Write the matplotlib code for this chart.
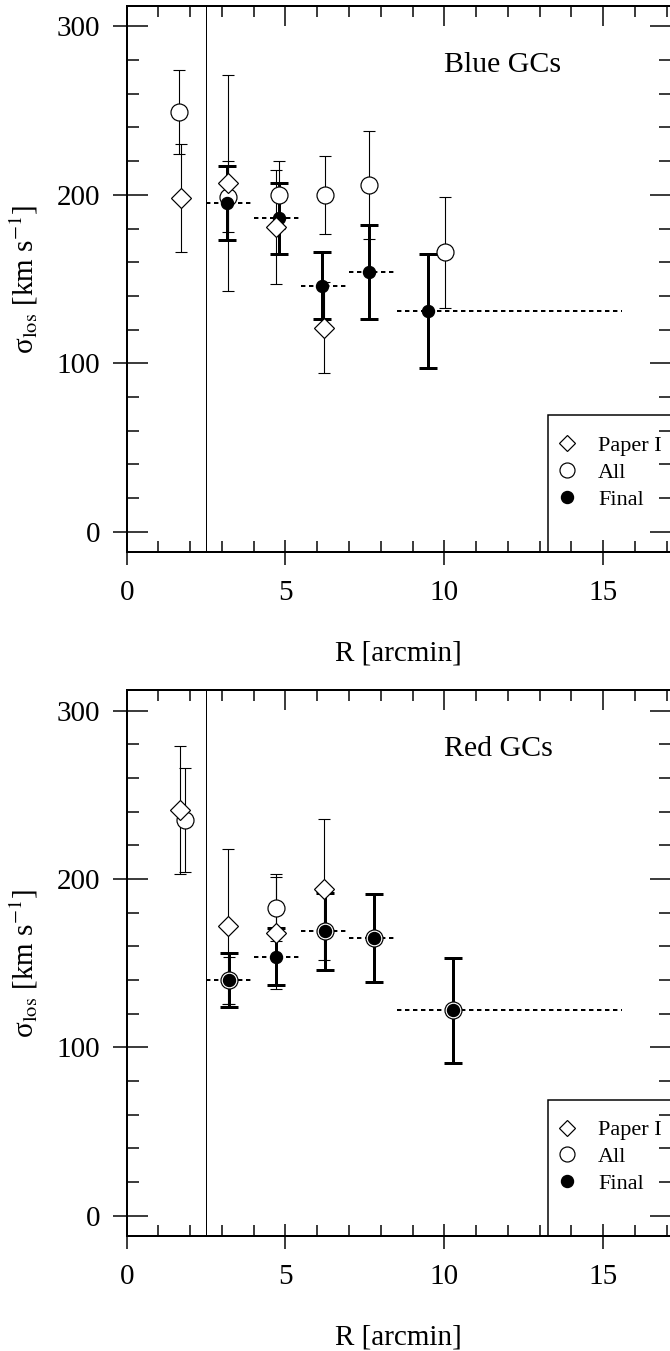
import matplotlib
matplotlib.use('Agg')
import matplotlib.pyplot as plt
from matplotlib.ticker import MultipleLocator
from matplotlib.patches import Rectangle
from matplotlib.lines import Line2D

plt.rcParams['font.family'] = ['Liberation Serif', 'DejaVu Serif']
plt.rcParams['mathtext.fontset'] = 'stix'

# radial bins of the final dispersion profile [arcmin]
bin_lo = [2.5, 4.0, 5.5, 7.0, 8.5]
bin_hi = [4.0, 5.5, 7.0, 8.5, 15.6]

# blue GCs
blue_paper_r = [1.70, 3.18, 4.71, 6.21]
blue_paper_s = [198, 207, 181, 121]
blue_paper_e = [32, 64, 34, 27]
blue_all_r = [1.65, 3.18, 4.79, 6.24, 7.64, 10.03]
blue_all_s = [249, 199, 200, 200, 206, 166]
blue_all_e = [25, 21, 20, 23, 32, 33]
blue_fin_r = [3.16, 4.80, 6.16, 7.62, 9.48]
blue_fin_s = [195, 186, 146, 154, 131]
blue_fin_e = [22, 21, 20, 28, 34]

# red GCs
red_paper_r = [1.69, 3.18, 4.71, 6.21]
red_paper_s = [241, 172, 168, 194]
red_paper_e = [38, 46, 33, 42]
red_all_r = [1.84, 3.22, 4.71, 6.23, 7.78, 10.29]
red_all_s = [235, 140, 183, 169, 165, 122]
red_all_e = [31, 14, 20, 23, 26, 31]
red_fin_r = [3.22, 4.71, 6.23, 7.78, 10.29]
red_fin_s = [140, 154, 169, 165, 122]
red_fin_e = [16, 17, 23, 26, 31]

r_core = 2.5
PX = 0.72  # points per pixel at dpi=100


def style_axes(ax):
    ax.set_xlim(0, 17.14)
    ax.set_ylim(-12, 312.2)
    for sp in ax.spines.values():
        sp.set_linewidth(2 * PX)
    ax.xaxis.set_major_locator(MultipleLocator(5))
    ax.xaxis.set_minor_locator(MultipleLocator(1))
    ax.yaxis.set_major_locator(MultipleLocator(100))
    ax.yaxis.set_minor_locator(MultipleLocator(20))
    ax.tick_params(axis='x', which='major', direction='inout', length=25 * PX,
                   width=1.5 * PX, labelsize=21, pad=11, top=False)
    ax.tick_params(axis='x', which='minor', direction='in', length=11 * PX,
                   width=1.5 * PX, top=False)
    ax.tick_params(axis='y', which='major', direction='out', length=14 * PX,
                   width=1.5 * PX, labelsize=21, pad=9, right=False)
    ax.tick_params(axis='y', which='minor', left=False, right=False)

    # inward ticks on the left, top and right
    left = ax.secondary_yaxis('left')
    right = ax.secondary_yaxis('right')
    top = ax.secondary_xaxis('top')
    for sec in (left, right):
        sec.yaxis.set_major_locator(MultipleLocator(100))
        sec.yaxis.set_minor_locator(MultipleLocator(20))
        sec.tick_params(which='major', direction='in', length=21 * PX, width=1.5 * PX,
                        labelleft=False, labelright=False)
        sec.tick_params(which='minor', direction='in', length=12 * PX, width=1.5 * PX)
    top.xaxis.set_major_locator(MultipleLocator(5))
    top.xaxis.set_minor_locator(MultipleLocator(1))
    top.tick_params(which='major', direction='in', length=20 * PX, width=1.5 * PX,
                    labeltop=False)
    top.tick_params(which='minor', direction='in', length=11 * PX, width=1.5 * PX)
    for sec in (left, right, top):
        for sp in sec.spines.values():
            sp.set_linewidth(2 * PX)

    ax.set_xlabel('R [arcmin]', fontsize=21)
    ax.set_ylabel('σ$_{\\rm los}$ [km s$^{-1}$]', fontsize=21)
    ax.xaxis.set_label_coords(0.5, -0.163)
    ax.yaxis.set_label_coords(-0.160, 0.5)


def draw_panel(ax, title, paper, allgc, final):
    ax.axvline(r_core, color='k', lw=1 * PX, zorder=1)

    thin = dict(fmt='none', ecolor='k', elinewidth=1.1 * PX, capsize=5.8 * PX,
                capthick=1.1 * PX, zorder=2)
    ax.errorbar(paper[0], paper[1], yerr=paper[2], **thin)
    ax.errorbar(allgc[0], allgc[1], yerr=allgc[2], **thin)
    ax.errorbar(final[0], final[1], yerr=final[2], fmt='none', ecolor='k',
                elinewidth=3 * PX, capsize=9 * PX, capthick=3 * PX, zorder=2.2)

    # bin extent of the final dispersions
    ax.hlines(final[1], bin_lo, bin_hi, colors='k', linestyles=(0, (2.2, 1.8)),
              lw=2 * PX, zorder=2.1)

    ax.plot(allgc[0], allgc[1], 'o', ms=17 * PX, mfc='white', mec='k',
            mew=1.2 * PX, ls='none', zorder=3)
    ax.plot(final[0], final[1], 'o', ms=12 * PX, mfc='k', mec='k',
            ls='none', zorder=4)
    ax.plot(paper[0], paper[1], 'D', ms=14 * PX, mfc='white', mec='k',
            mew=1.2 * PX, ls='none', zorder=5)

    ax.text(10.0, 273, title, fontsize=21.5, ha='left', va='baseline')

    handles = [
        Line2D([], [], marker='D', ms=12 * PX, mfc='white', mec='k', mew=1.2 * PX, ls='none'),
        Line2D([], [], marker='o', ms=15 * PX, mfc='white', mec='k', mew=1.2 * PX, ls='none'),
        Line2D([], [], marker='o', ms=12 * PX, mfc='k', mec='k', ls='none'),
    ]
    ax.legend(handles, ['Paper I', 'All', 'Final'], loc='upper left',
              bbox_to_anchor=(0.7915, 0.213), frameon=False, fontsize=16,
              borderpad=0, borderaxespad=0, handlelength=0.87, handletextpad=0.96,
              labelspacing=0.28)
    ax.add_patch(Rectangle((0.774, 0), 0.4, 0.2498, transform=ax.transAxes,
                           fill=False, ec='k', lw=1.5 * PX, zorder=6))


fig = plt.figure(figsize=(6.70, 13.51), dpi=100)
ax1 = fig.add_axes([0.1891, 0.5916, 0.8124, 0.4040])
ax2 = fig.add_axes([0.1891, 0.0851, 0.8124, 0.4040])

draw_panel(ax1, 'Blue GCs',
           (blue_paper_r, blue_paper_s, blue_paper_e),
           (blue_all_r, blue_all_s, blue_all_e),
           (blue_fin_r, blue_fin_s, blue_fin_e))
draw_panel(ax2, 'Red GCs',
           (red_paper_r, red_paper_s, red_paper_e),
           (red_all_r, red_all_s, red_all_e),
           (red_fin_r, red_fin_s, red_fin_e))
style_axes(ax1)
style_axes(ax2)

fig.savefig('out.png', dpi=100)
